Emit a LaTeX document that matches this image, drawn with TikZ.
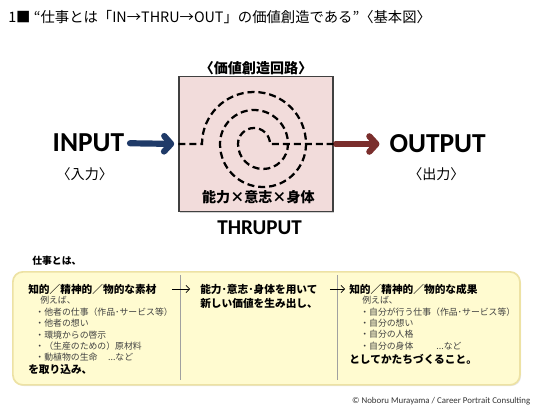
\documentclass[tikz,border=0pt]{standalone}
\usepackage{fontspec}
\setmainfont{Noto Sans CJK JP}
\newfontfamily\calibri{Carlito}
\usepackage{tikz}
\usetikzlibrary{arrows.meta,positioning,shadows}
\definecolor{loopcol}{HTML}{F2DCDB}
\definecolor{incol}{HTML}{1F3A68}
\definecolor{outcol}{HTML}{7A2E2C}
\definecolor{notebg}{HTML}{FFFBD0}
\definecolor{noteedge}{HTML}{EDE2A4}
\definecolor{greyc}{HTML}{A0A0A0}
\definecolor{textc}{HTML}{404040}
\newcommand{\nado}{...など}

\begin{document}
\begin{tikzpicture}[
  bigword/.style={font=\calibri\bfseries\fontsize{19.5}{22}\selectfont,inner sep=2pt},
  kanji/.style={font=\fontsize{10}{12}\selectfont},
  fat/.style={line width=4.4pt,line cap=round,
              -{Straight Barb[length=5pt,width=11pt,round]}},
  spiral/.style={line width=1.6pt,dash pattern=on 5pt off 2.8pt},
  hdr/.style={anchor=west,inner sep=0pt,font=\bfseries\fontsize{7.6}{9}\selectfont},
  listitem/.style={anchor=west,inner sep=0pt,text=textc,font=\fontsize{6.3}{7.5}\selectfont},
  flow/.style={line width=0.5pt,-{Straight Barb[length=2.5pt,width=5pt]}},
]
\useasboundingbox (0,0) rectangle (13.75,10.3);

\node[anchor=west,inner sep=0pt,font=\fontsize{10.2}{12}\selectfont] (title) at (0.2,9.875)
  {1■ “仕事とは「IN→THRU→OUT」の価値創造である”〈基本図〉};

% ---------- TOP: in -> thru -> out ----------
\node[draw=black!75,line width=0.8pt,fill=loopcol,minimum width=3.85cm,minimum height=3.375cm,
      drop shadow={shadow xshift=1pt,shadow yshift=-1pt,opacity=0.35}] (loop) at (6.4,6.7) {};
\node[kanji,font=\bfseries\fontsize{10}{12}\selectfont] (looplab) at (6.4,8.59) {〈価値創造回路〉};
\node[font=\bfseries\fontsize{10}{12}\selectfont] (factors) at (6.46,5.36) {能力×意志×身体};
\node[bigword,font=\calibri\bfseries\fontsize{15}{18}\selectfont] (thru) at (6.49,4.61) {THRUPUT};

\node[bigword] (input) at (2.21,6.72) {INPUT};
\node[kanji] (inlab) at (2.12,5.95) {〈入力〉};
\node[bigword] (output) at (10.94,6.7) {OUTPUT};
\node[kanji] (outlab) at (10.91,5.95) {〈出力〉};

\draw[fat,incol,shorten <=2pt,shorten >=3pt] (input.east) -- (loop.west);
\draw[fat,outcol,shorten <=1.5pt,shorten >=5pt] (loop.east) -- (output.west);

\draw[spiral] (loop.west) -- (5.05,6.7)
  arc[start angle=180,end angle=0,radius=1.3]
  arc[start angle=0,end angle=-180,radius=1.075]
  arc[start angle=180,end angle=0,radius=0.85]
  arc[start angle=0,end angle=-180,radius=0.625]
  arc[start angle=180,end angle=0,radius=0.4] -- (loop.east);

% ---------- BOTTOM: what work is ----------
\node[hdr,font=\bfseries\fontsize{7}{8}\selectfont] (worklab) at (0.8,3.775) {仕事とは、};
\node[fill=notebg,draw=noteedge,line width=1.2pt,rounded corners=7pt,
      minimum width=12.675cm,minimum height=2.825cm,
      drop shadow={shadow xshift=0.8pt,shadow yshift=-0.8pt,opacity=0.2}] (note) at (6.66,2.09) {};
\draw[greyc,line width=0.4pt] (4.5,3.425) -- (4.5,0.8);
\draw[greyc,line width=0.4pt] (8.425,3.425) -- (8.425,0.8);

\node[hdr] (mat) at (0.7,3.075) {知的／精神的／物的な素材};
\node[listitem] (matex) at (1.0,2.8) {例えば、};
\foreach \i/\lab in {0/{・他者の仕事（作品･サービス等）},1/{・他者の想い},2/{・環境からの啓示},
                     3/{・（生産のための）原材料},4/{・動植物の生命\hspace{1.2em}\nado}} {
  \node[listitem] at (0.88, 2.5-0.283*\i) {\lab};
}
\node[hdr] (take) at (0.7,1.05) {を取り込み、};

\node[hdr] (proc) at (5.0,3.075) {能力･意志･身体を用いて};
\node[hdr] (proc2) at (5.0,2.725) {新しい価値を生み出し、};

\node[hdr] (res) at (8.725,3.075) {知的／精神的／物的な成果};
\node[listitem] (resex) at (9.05,2.8) {例えば、};
\foreach \i/\lab in {0/{・自分が行う仕事（作品･サービス等）},1/{・自分の想い},2/{・自分の人格},
                     3/{・自分の身体\hspace{2.6em}\nado}} {
  \node[listitem] at (9.0, 2.5-0.283*\i) {\lab};
}
\node[hdr] (shape) at (8.725,1.325) {としてかたちづくること。};

\draw[flow,shorten <=0.375cm,shorten >=0.25cm] (mat.east) -- (proc.west);
\draw[flow,shorten <=0.3cm,shorten >=0.1cm] (proc.east) -- (res.west);

\node[font=\calibri\fontsize{6.3}{7}\selectfont,text=black!80] (credit) at (11.03,0.275)
  {© Noboru Murayama / Career Portrait Consulting};
\end{tikzpicture}
\end{document}
